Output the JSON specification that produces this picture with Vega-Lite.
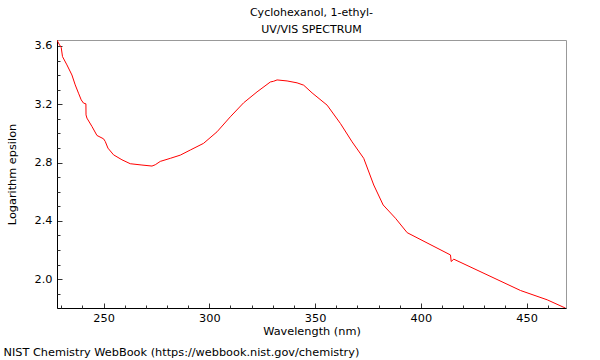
{
  "$schema": "https://vega.github.io/schema/vega-lite/v6.json",
  "width": 509,
  "height": 268,
  "autosize": "none",
  "padding": {"left": 57, "top": 40, "right": 34, "bottom": 52},
  "background": "white",
  "config": {
    "view": {"stroke": "#999999", "strokeWidth": 1},
    "font": "DejaVu Sans",
    "axis": {"grid": false, "domainColor": "black", "tickColor": "#333333", "labelColor": "black", "titleColor": "black", "labelFont": "DejaVu Sans", "titleFont": "DejaVu Sans", "labelFontSize": 11.3, "titleFontSize": 11.3, "titleFontWeight": "normal"}
  },
  "title": {"text": ["Cyclohexanol, 1-ethyl-", "UV/VIS SPECTRUM"], "anchor": "middle", "font": "DejaVu Sans", "fontSize": 11, "fontWeight": "normal", "lineHeight": 17, "offset": 5, "color": "black"},
  "data": {"values": [
    {"wavelength": 227.96, "logeps": 3.641},
    {"wavelength": 229.04, "logeps": 3.612},
    {"wavelength": 229.99, "logeps": 3.589},
    {"wavelength": 230.6, "logeps": 3.527},
    {"wavelength": 232.69, "logeps": 3.47},
    {"wavelength": 235.05, "logeps": 3.401},
    {"wavelength": 236.61, "logeps": 3.333},
    {"wavelength": 238.17, "logeps": 3.276},
    {"wavelength": 239.45, "logeps": 3.23},
    {"wavelength": 240.54, "logeps": 3.208},
    {"wavelength": 241.67, "logeps": 3.203},
    {"wavelength": 241.72, "logeps": 3.127},
    {"wavelength": 242.15, "logeps": 3.105},
    {"wavelength": 244.51, "logeps": 3.048},
    {"wavelength": 246.88, "logeps": 2.986},
    {"wavelength": 250.0, "logeps": 2.963},
    {"wavelength": 250.8, "logeps": 2.945},
    {"wavelength": 252.08, "logeps": 2.899},
    {"wavelength": 254.73, "logeps": 2.853},
    {"wavelength": 258.7, "logeps": 2.819},
    {"wavelength": 262.63, "logeps": 2.792},
    {"wavelength": 268.16, "logeps": 2.783},
    {"wavelength": 272.9, "logeps": 2.776},
    {"wavelength": 274.46, "logeps": 2.785},
    {"wavelength": 276.82, "logeps": 2.808},
    {"wavelength": 281.55, "logeps": 2.829},
    {"wavelength": 286.28, "logeps": 2.851},
    {"wavelength": 291.01, "logeps": 2.886},
    {"wavelength": 297.3, "logeps": 2.932},
    {"wavelength": 303.64, "logeps": 3.011},
    {"wavelength": 309.93, "logeps": 3.114},
    {"wavelength": 316.22, "logeps": 3.21},
    {"wavelength": 322.56, "logeps": 3.285},
    {"wavelength": 328.85, "logeps": 3.353},
    {"wavelength": 330.42, "logeps": 3.358},
    {"wavelength": 332.02, "logeps": 3.367},
    {"wavelength": 336.75, "logeps": 3.36},
    {"wavelength": 341.48, "logeps": 3.347},
    {"wavelength": 344.6, "logeps": 3.331},
    {"wavelength": 348.58, "logeps": 3.278},
    {"wavelength": 355.68, "logeps": 3.194},
    {"wavelength": 361.97, "logeps": 3.068},
    {"wavelength": 367.5, "logeps": 2.942},
    {"wavelength": 372.99, "logeps": 2.829},
    {"wavelength": 377.72, "logeps": 2.646},
    {"wavelength": 382.17, "logeps": 2.509},
    {"wavelength": 387.99, "logeps": 2.418},
    {"wavelength": 393.52, "logeps": 2.319},
    {"wavelength": 414.0, "logeps": 2.166},
    {"wavelength": 414.33, "logeps": 2.121},
    {"wavelength": 415.56, "logeps": 2.137},
    {"wavelength": 447.1, "logeps": 1.922},
    {"wavelength": 459.74, "logeps": 1.858},
    {"wavelength": 468.4, "logeps": 1.801}
  ]},
  "layer": [
    {
      "mark": {"type": "line", "color": "#ff0000", "strokeWidth": 1, "clip": true},
      "encoding": {
        "x": {"field": "wavelength", "type": "quantitative",
          "scale": {"domain": [228, 468.6], "nice": false, "zero": false},
          "axis": {"orient": "bottom", "title": "Wavelength (nm)", "values": [250, 300, 350, 400, 450], "tickSize": -5, "labelPadding": 9, "titleY": 23, "titleBaseline": "middle"}},
        "y": {"field": "logeps", "type": "quantitative",
          "scale": {"domain": [1.802, 3.641], "nice": false, "zero": false},
          "axis": {"orient": "left", "title": "Logarithm epsilon", "values": [2, 2.4, 2.8, 3.2, 3.6], "tickSize": -5, "labelPadding": 10, "titleX": -45, "titleBaseline": "middle"}}
      }
    },
    {
      "mark": {"type": "line", "opacity": 0},
      "encoding": {
        "x": {"field": "wavelength", "type": "quantitative",
          "axis": {"orient": "bottom", "values": [230, 240, 260, 270, 280, 290, 310, 320, 330, 340, 360, 370, 380, 390, 410, 420, 430, 440, 460], "tickSize": -3, "labels": false, "domain": false,
            "title": "NIST Chemistry WebBook (https://webbook.nist.gov/chemistry)", "titleX": -54, "titleY": 44, "titleAlign": "left", "titleAnchor": "start", "titleBaseline": "middle"}},
        "y": {"field": "logeps", "type": "quantitative",
          "axis": {"orient": "left", "values": [1.9, 2.1, 2.2, 2.3, 2.5, 2.6, 2.7, 2.9, 3.0, 3.1, 3.3, 3.4, 3.5], "tickSize": -3, "labels": false, "domain": false, "title": null}}
      }
    }
  ],
  "resolve": {"axis": {"x": "independent", "y": "independent"}}
}
